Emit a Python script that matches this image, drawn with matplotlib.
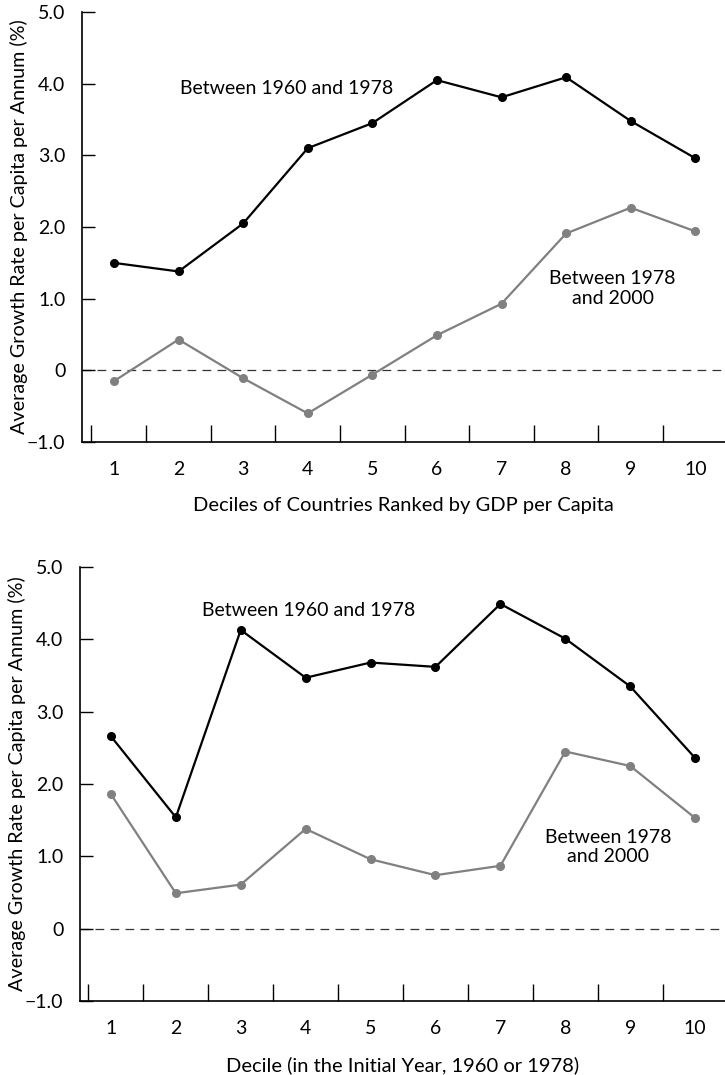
import numpy as np
from matplotlib import pyplot as plt

deciles = np.arange(1, 11)

# top panel: countries ranked by GDP per capita
top_1960_1978 = [1.50, 1.38, 2.05, 3.10, 3.45, 4.05, 3.81, 4.09, 3.48, 2.96]
top_1978_2000 = [-0.15, 0.43, -0.11, -0.60, -0.06, 0.49, 0.93, 1.91, 2.27, 1.94]

# bottom panel: decile in the initial year
bot_1960_1978 = [2.66, 1.54, 4.13, 3.47, 3.68, 3.62, 4.49, 4.01, 3.35, 2.36]
bot_1978_2000 = [1.86, 0.49, 0.61, 1.38, 0.96, 0.74, 0.87, 2.45, 2.25, 1.53]

ytick_vals = [-1, 0, 1, 2, 3, 4, 5]
ytick_labels = ["\u22121.0", "0", "1.0", "2.0", "3.0", "4.0", "5.0"]
xtick_minor = [0.65, 1.5, 2.5, 3.5, 4.5, 5.5, 6.5, 7.5, 8.5, 9.5]

ylabel = "Average Growth Rate per Capita per Annum (%)"

plt.rcParams['font.family'] = ['Lato', 'DejaVu Sans']

fig = plt.figure(figsize=(7.25, 10.75), dpi=100)


def draw_panel(ax, early, late, xlabel, xlim, lab1, lab2):
    ax.axhline(0, color='#333333', lw=0.9, ls=(0, (7, 5)), zorder=1)
    ax.plot(deciles, early, color='black', lw=1.6, marker='o', ms=5.5, zorder=3)
    ax.plot(deciles, late, color='#808080', lw=1.6, marker='o', ms=5.5, zorder=2)

    ax.set_xlim(*xlim)
    ax.set_ylim(-1, 5)
    ax.spines['top'].set_visible(False)
    ax.spines['right'].set_visible(False)
    for s in ['left', 'bottom']:
        ax.spines[s].set_linewidth(1.2)

    ax.set_yticks(ytick_vals)
    ax.set_yticklabels(ytick_labels)
    ax.tick_params(axis='y', direction='in', length=9, width=1, pad=12, labelsize=14)

    ax.set_xticks(deciles)
    ax.set_xticks(xtick_minor, minor=True)
    ax.tick_params(axis='x', which='major', length=0, pad=13.5, labelsize=14)
    ax.tick_params(axis='x', which='minor', direction='in', length=12, width=1)

    ax.set_xlabel(xlabel, fontsize=14.5, labelpad=14)
    ax.set_ylabel(ylabel, fontsize=14.2)
    ax.yaxis.set_label_coords(-0.084, 0.5)

    ax.text(lab1[0], lab1[1], "Between 1960 and 1978", fontsize=14,
            ha='center', va='center')
    ax.text(lab2[0], lab2[1], "Between 1978\nand 2000", fontsize=14,
            ha='center', va='center', linespacing=1.2)


ax1 = fig.add_axes([0.1131, 0.5888, 0.8869, 0.4])
draw_panel(ax1, top_1960_1978, top_1978_2000,
           "Deciles of Countries Ranked by GDP per Capita",
           (0.505, 10.46), (3.68, 3.94), (8.72, 1.14))

ax2 = fig.add_axes([0.1103, 0.0688, 0.8897, 0.4037])
draw_panel(ax2, bot_1960_1978, bot_1978_2000,
           "Decile (in the Initial Year, 1960 or 1978)",
           (0.523, 10.46), (4.04, 4.40), (8.66, 1.13))

plt.savefig('out.png', dpi=100)
